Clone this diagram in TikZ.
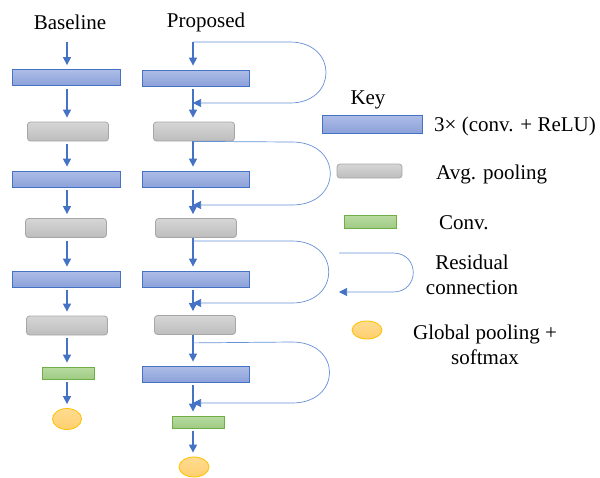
\documentclass[tikz,border=0pt]{standalone}
\usepackage{fontspec}
\setmainfont{Liberation Serif}
\usetikzlibrary{arrows.meta,calc,shapes.geometric}
\definecolor{bluefillA}{HTML}{AEBDE7}
\definecolor{bluefillB}{HTML}{8CA1D9}
\definecolor{blueline}{HTML}{4472C4}
\definecolor{grayA}{HTML}{D6D6D6}
\definecolor{grayB}{HTML}{BDBDBD}
\definecolor{grayline}{HTML}{A6A6A6}
\definecolor{greenA}{HTML}{B9DBA2}
\definecolor{greenB}{HTML}{9FCB83}
\definecolor{greenline}{HTML}{70AD47}
\definecolor{orangeA}{HTML}{FFDC90}
\definecolor{orangeB}{HTML}{FFCF6E}
\definecolor{orangeline}{HTML}{FFC000}
\definecolor{resline}{HTML}{6690D8}
\begin{document}
\begin{tikzpicture}[x=1pt,y=-1pt,
  every node/.style={font=\fontsize{21}{25}\selectfont, inner sep=0pt},
  convbox/.style={draw=blueline, line width=0.8pt, top color=bluefillA, bottom color=bluefillB, minimum width=108pt, minimum height=16pt},
  poolbox/.style={draw=grayline, line width=0.8pt, rounded corners=3pt, top color=grayA, bottom color=grayB, minimum width=81pt, minimum height=19pt},
  convsm/.style={draw=greenline, line width=0.8pt, top color=greenA, bottom color=greenB, minimum width=52pt, minimum height=12pt},
  gpool/.style={ellipse, draw=orangeline, line width=0.8pt, top color=orangeA, bottom color=orangeB, minimum width=29pt, minimum height=21pt},
  flow/.style={draw=blueline, line width=1.2pt, -{Triangle[width=8pt,length=8pt]}, shorten <=3pt, shorten >=4pt},
  res/.style={draw=resline, line width=0.7pt, -{Triangle[width=8pt,length=8pt,color=blueline]}},
  label/.style={anchor=west}
]
\useasboundingbox (0,0) rectangle (600,477);

% titles
\node (tb) at (70,22) {Baseline};
\node (tp) at (206,22) {Proposed};

% baseline column
\coordinate (bin) at (67,39);
\node[convbox] (b1) at (66,77.5) {};
\node[poolbox] (b2) at (68,131.5) {};
\node[convbox] (b3) at (66,179) {};
\node[poolbox] (b4) at (66,228) {};
\node[convbox] (b5) at (66,279) {};
\node[poolbox] (b6) at (67,325.5) {};
\node[convsm] (b7) at (68,373) {};
\node[gpool] (b8) at (67,419) {};
\draw[flow] (bin) -- (b1.north -| bin);
\draw[flow] (b1.south -| bin) -- (b2.north -| bin);
\draw[flow] (b2.south -| bin) -- (b3.north -| bin);
\draw[flow] (b3.south -| bin) -- (b4.north -| bin);
\draw[flow] (b4.south -| bin) -- (b5.north -| bin);
\draw[flow] (b5.south -| bin) -- (b6.north -| bin);
\draw[flow] (b6.south -| bin) -- (b7.north -| bin);
\draw[flow] (b7.south -| bin) -- (b8.north);

% proposed column
\coordinate (pin) at (193,42);
\node[convbox,minimum width=107pt] (p1) at (195.5,78) {};
\node[poolbox] (p2) at (194,131.5) {};
\node[convbox,minimum width=107pt] (p3) at (196,179) {};
\node[poolbox] (p4) at (196,228) {};
\node[convbox,minimum width=107pt] (p5) at (196,279) {};
\node[poolbox] (p6) at (195,325) {};
\node[convbox,minimum width=107pt] (p7) at (196,374) {};
\node[convsm] (p8) at (198,422) {};
\node[gpool,minimum width=30pt,minimum height=20pt] (p9) at (194,467) {};
\draw[flow,shorten <=0pt] (pin) -- (p1.north -| pin);
\draw[flow] (p1.south -| pin) -- (p2.north -| pin);
\draw[flow,shorten <=0pt] (p2.south -| pin) -- (p3.north -| pin);
\draw[flow] (p3.south -| pin) -- (p4.north -| pin);
\draw[flow,shorten <=0pt] (p4.south -| pin) -- (p5.north -| pin);
\draw[flow] (p5.south -| pin) -- (p6.north -| pin);
\draw[flow,shorten <=0pt] (p6.south -| pin) -- (p7.north -| pin);
\draw[flow] (p7.south -| pin) -- (p8.north -| pin);
\draw[flow] (p8.south -| pin) -- (p9.north -| pin);

% residual connections
\coordinate (r1) at (193,103);
\coordinate (r2) at (193,205);
\coordinate (r3) at (193,303);
\coordinate (r4) at (193,403);
\draw[res] (pin) -- (290,42) .. controls (338,42) and (338,103) .. (290,103) -- (r1);
\draw[res] (p2.south -| pin) -- (292,142) .. controls (343,142) and (343,205) .. (292,205) -- (r2);
\draw[res] ($(p4.south -| pin)+(0,3)$) -- (292,241) .. controls (341,241) and (341,303) .. (292,303) -- (r3);
\draw[res] ($(p6.south -| pin)+(0,8)$) -- (292,342) .. controls (342,342) and (342,403) .. (292,403) -- (r4);

% key
\node (kt) at (368,100) {Key};
\node[convbox,minimum width=100pt,minimum height=18pt] (k1) at (372,124) {};
\node[label] (k1t) at (434,126) {3× (conv. + ReLU)};
\node[poolbox,minimum width=65pt,minimum height=14pt] (k2) at (369.5,171) {};
\node[label] (k2t) at (436,174) {Avg. pooling};
\node[convsm,minimum height=13pt] (k3) at (370,221.5) {};
\node[label] (k3t) at (439,223) {Conv.};
\coordinate (k4s) at (339,253);
\coordinate (k4e) at (339,292);
\draw[res] (k4s) -- (393,253) .. controls (420,253) and (420,292) .. (393,292) -- (k4e);
\node[align=center] (k4t) at (472,275) {Residual\\connection};
\node[gpool,minimum width=30pt,minimum height=18pt] (k5) at (367,330) {};
\node[align=center] (k5t) at (485,345) {Global pooling +\\softmax};
\end{tikzpicture}
\end{document}
